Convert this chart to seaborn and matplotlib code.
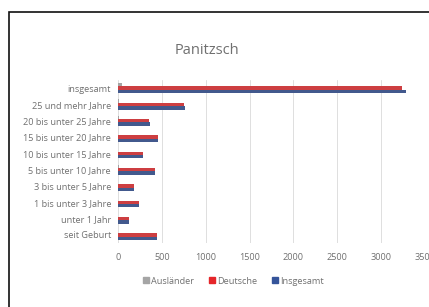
import pandas as pd
import seaborn as sns
import matplotlib.pyplot as plt
from matplotlib.patches import Rectangle

# Altersgruppen (von oben nach unten)
categories = ['insgesamt', '25 und mehr Jahre', '20 bis unter 25 Jahre',
              '15 bis unter 20 Jahre', '10 bis unter 15 Jahre', '5 bis unter 10 Jahre',
              '3 bis unter 5 Jahre', '1 bis unter 3 Jahre', 'unter 1 Jahr', 'seit Geburt']
auslaender = [45, 12, 6, 5, 4, 6, 3, 3, 2, 4]
deutsche = [3240, 748, 354, 455, 286, 419, 182, 237, 123, 446]
insgesamt = [3285, 760, 360, 460, 290, 425, 185, 240, 125, 450]

series = ['Ausländer', 'Deutsche', 'Insgesamt']
colors = ['#a5a5a5', '#e5262a', '#35549a']
x_ticks = [0, 500, 1000, 1500, 2000, 2500, 3000, 3500]

df = pd.DataFrame({'Kategorie': categories, 'Ausländer': auslaender,
                   'Deutsche': deutsche, 'Insgesamt': insgesamt})
df = df.melt(id_vars='Kategorie', var_name='Gruppe', value_name='Wert')

sns.set_theme(style='white')
plt.rcParams['font.family'] = ['Open Sans', 'DejaVu Sans']
text_color = '#707070'

fig = plt.figure(figsize=(4.29, 3.07), dpi=100)
ax = fig.add_axes([118 / 429, 1 - 243 / 307, (425 - 118) / 429, (243 - 80) / 307])

sns.barplot(data=df, y='Kategorie', x='Wert', hue='Gruppe', hue_order=series,
            order=categories, palette=colors, orient='h', width=0.62,
            linewidth=0, ax=ax, legend=False)

ax.set_xlim(0, 3500)
ax.set_xticks(x_ticks)
ax.set_xticklabels([str(t) for t in x_ticks])
ax.xaxis.grid(True, color='#dedede', linewidth=0.7)
ax.set_axisbelow(True)
ax.set_xlabel('')
ax.set_ylabel('')
for s in ax.spines.values():
    s.set_visible(False)
ax.tick_params(axis='both', length=0, labelsize=6.6, colors=text_color)
ax.tick_params(axis='y', pad=5)
ax.tick_params(axis='x', pad=7)

fig.text(207 / 429, 1 - 50 / 307, 'Panitzsch', ha='center', va='center',
         fontsize=10.5, color=text_color)

handles = [plt.Line2D([], [], marker='s', linestyle='', markersize=4,
                      color=c) for c in colors]
fig.legend(handles, series, loc='center', bbox_to_anchor=(233 / 429, 1 - 281 / 307),
           ncol=3, frameon=False, fontsize=6.6, labelcolor=text_color,
           handletextpad=0.1, columnspacing=1.6, handlelength=0.8)

# Rahmen des Screenshots
fig.patches.append(Rectangle((8.5 / 429, -0.1), 1.2, 1 - 12.5 / 307 + 0.1,
                             transform=fig.transFigure, fill=False,
                             edgecolor='#111111', linewidth=1.2))

plt.savefig('out.png', dpi=100)
